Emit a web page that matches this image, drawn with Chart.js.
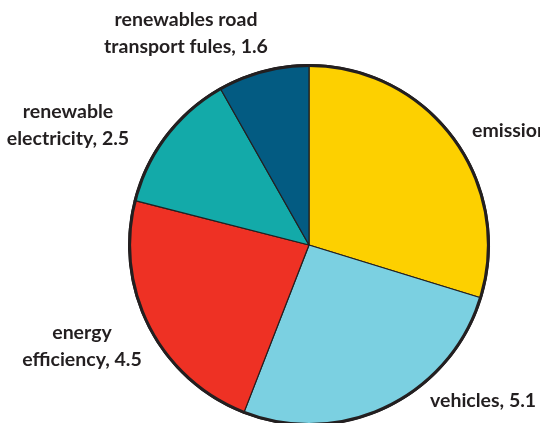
<html>
  <head>
    <title>Pie</title>
    <script src="https://cdn.jsdelivr.net/npm/chart.js@4.4.0/dist/chart.umd.min.js"></script>
    <style>
      body {
        margin: 0;
        background-color: #ffffff;
        overflow: hidden;
      }
    </style>
  </head>
  <body>
    <canvas id="pie-chart" width="540" height="440"></canvas>
  </body>
  <script>
    // data
    var labels = ["emissions", "vehicles", "energy efficiency", "renewable electricity", "renewables road transport fules"];
    var values = [5.8, 5.1, 4.5, 2.5, 1.6];
    var colors = ["#fdd000", "#7bd0e1", "#ee3124", "#13aaa9", "#035b82"];
    // how each label is broken into lines
    var labelLines = [
      ["emissions, 5.8"],
      ["vehicles, 5.1"],
      ["energy", "efficiency, 4.5"],
      ["renewable", "electricity, 2.5"],
      ["renewables road", "transport fules, 1.6"]
    ];

    // text placement (not data)
    var labelAlign = ["left", "left", "center", "center", "center"];
    var labelPos = [
      [472, 131], [430, 401], [82, 333], [68, 112], [186, 20]
    ];

    var outline = {
      id: 'outline',
      afterDatasetsDraw: function (chart) {
        var ctx = chart.ctx;
        var arc = chart.getDatasetMeta(0).data[0];
        ctx.save();
        ctx.beginPath();
        ctx.arc(arc.x, arc.y, arc.outerRadius - 1, 0, Math.PI * 2);
        ctx.lineWidth = 3;
        ctx.strokeStyle = "#231f20";
        ctx.stroke();
        ctx.restore();
      }
    };

    var sliceLabels = {
      id: 'sliceLabels',
      afterDraw: function (chart) {
        var ctx = chart.ctx;
        ctx.save();
        ctx.fillStyle = "#231f20";
        ctx.font = "bold 19.5px Lato";
        ctx.textBaseline = "middle";
        for (var i = 0; i < labelLines.length; i++) {
          ctx.textAlign = labelAlign[i];
          for (var j = 0; j < labelLines[i].length; j++) {
            ctx.fillText(labelLines[i][j], labelPos[i][0], labelPos[i][1] + j * 27);
          }
        }
        ctx.restore();
      }
    };

    new Chart(document.getElementById("pie-chart"), {
      type: 'pie',
      data: {
        labels: labels,
        datasets: [{
          data: values,
          backgroundColor: colors,
          borderColor: "#231f20",
          borderWidth: 1.2
        }]
      },
      options: {
        responsive: false,
        animation: false,
        layout: { padding: { left: 128, right: 50, top: 64, bottom: 14 } },
        plugins: {
          legend: { display: false },
          tooltip: { enabled: false }
        }
      },
      plugins: [outline, sliceLabels]
    });
  </script>
</html>
